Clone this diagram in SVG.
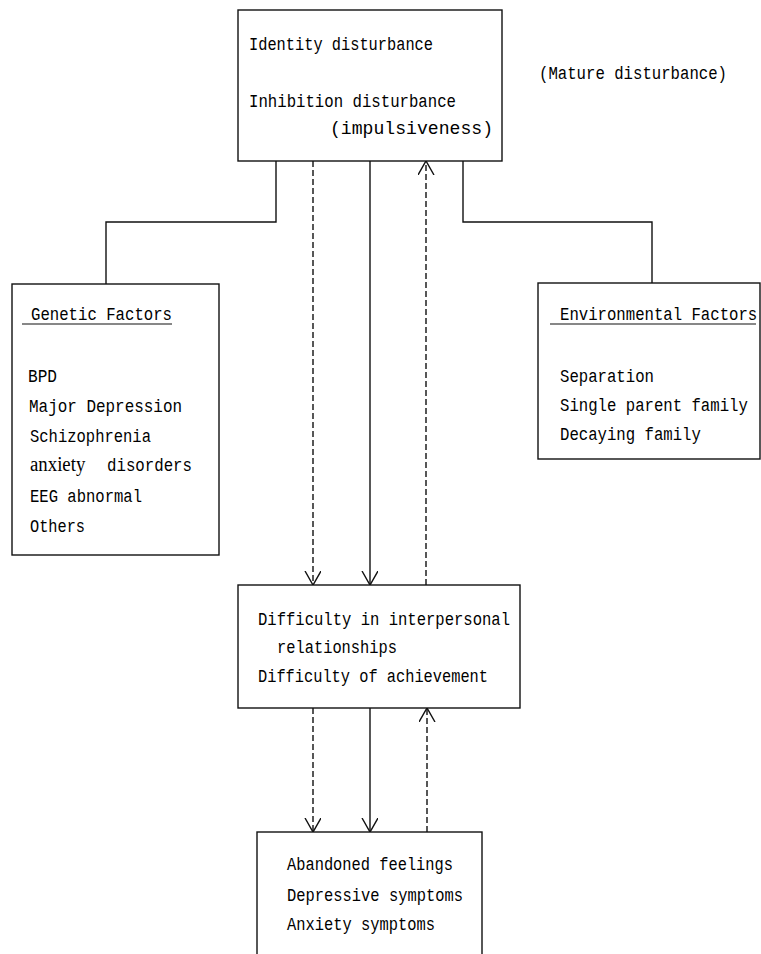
<svg xmlns="http://www.w3.org/2000/svg" width="761" height="954" viewBox="0 0 761 954">
<style>
.box{fill:#fff;stroke:#111;stroke-width:1.4}
.t{font-family:"Liberation Mono","DejaVu Sans Mono",monospace;font-size:18px;fill:#000}
.s{font-family:"Liberation Serif",serif;font-size:20px;fill:#000}
.ln{fill:none;stroke:#111;stroke-width:1.4}
.dash{fill:none;stroke:#111;stroke-width:1.4;stroke-dasharray:6 3}
.ul{stroke:#111;stroke-width:1.2}
</style>
<defs>
<marker id="chev" markerUnits="userSpaceOnUse" markerWidth="20" markerHeight="20" viewBox="0 0 20 20" refX="14" refY="8" orient="auto">
<path d="M0,0 L14,8 L0,16" fill="none" stroke="#111" stroke-width="1.4" stroke-dasharray="none"/>
</marker>
</defs>
<rect width="761" height="954" fill="#fff"/>
<g id="connectors">
<polyline class="ln" points="276,161 276,222 106,222 106,284"/>
<polyline class="ln" points="463,161 463,222 652,222 652,283"/>
<line class="dash" x1="313" y1="161" x2="313" y2="585" marker-end="url(#chev)"/>
<line class="ln" x1="370" y1="161" x2="370" y2="585" marker-end="url(#chev)"/>
<line class="dash" x1="426" y1="585" x2="426" y2="161" marker-end="url(#chev)"/>
<line class="dash" x1="313" y1="708" x2="313" y2="832" marker-end="url(#chev)"/>
<line class="ln" x1="370" y1="708" x2="370" y2="832" marker-end="url(#chev)"/>
<line class="dash" x1="427" y1="832" x2="427" y2="708" marker-end="url(#chev)"/>
</g>
<g id="top">
<rect class="box" x="238" y="10" width="264" height="151"/>
<text class="t" x="249" y="50" textLength="184" lengthAdjust="spacingAndGlyphs">Identity disturbance</text>
<text class="t" x="249" y="107" textLength="207" lengthAdjust="spacingAndGlyphs">Inhibition disturbance</text>
<text class="t" x="330" y="134" textLength="163" lengthAdjust="spacingAndGlyphs">(impulsiveness)</text>
</g>
<g id="mature">
<text class="t" x="539" y="79" textLength="188" lengthAdjust="spacingAndGlyphs">(Mature disturbance)</text>
</g>
<g id="genetic">
<rect class="box" x="12" y="284" width="207" height="271"/>
<text class="t" x="31" y="320" textLength="141" lengthAdjust="spacingAndGlyphs">Genetic Factors</text>
<line class="ul" x1="22" y1="324" x2="172" y2="324"/>
<text class="t" x="28" y="382" textLength="29" lengthAdjust="spacingAndGlyphs">BPD</text>
<text class="t" x="29" y="412" textLength="153" lengthAdjust="spacingAndGlyphs">Major Depression</text>
<text class="t" x="30" y="442" textLength="121" lengthAdjust="spacingAndGlyphs">Schizophrenia</text>
<text y="471"><tspan class="s" x="30" textLength="60" lengthAdjust="spacingAndGlyphs">anxiety </tspan><tspan class="t" x="107" textLength="85" lengthAdjust="spacingAndGlyphs">disorders</tspan></text>
<text class="t" x="30" y="502" textLength="112" lengthAdjust="spacingAndGlyphs">EEG abnormal</text>
<text class="t" x="30" y="532" textLength="55" lengthAdjust="spacingAndGlyphs">Others</text>
</g>
<g id="environmental">
<rect class="box" x="538" y="283" width="222" height="176"/>
<line class="ul" x1="550" y1="324" x2="756" y2="324"/>
<g transform="translate(560,0) scale(0.87,1)">
<text class="t" x="0" y="320">Environmental Factors</text>
<text class="t" x="0" y="382">Separation</text>
<text class="t" x="0" y="411">Single parent family</text>
<text class="t" x="0" y="440">Decaying family</text>
</g>
</g>
<g id="middle">
<rect class="box" x="238" y="585" width="282" height="123"/>
<text class="t" x="258" y="625" textLength="252" lengthAdjust="spacingAndGlyphs">Difficulty in interpersonal</text>
<text class="t" x="277" y="653" textLength="120" lengthAdjust="spacingAndGlyphs">relationships</text>
<text class="t" x="258" y="682" textLength="230" lengthAdjust="spacingAndGlyphs">Difficulty of achievement</text>
</g>
<g id="bottom">
<rect class="box" x="257" y="832" width="225" height="130"/>
<text class="t" x="287" y="870" textLength="166" lengthAdjust="spacingAndGlyphs">Abandoned feelings</text>
<text class="t" x="287" y="901" textLength="176" lengthAdjust="spacingAndGlyphs">Depressive symptoms</text>
<text class="t" x="287" y="930" textLength="148" lengthAdjust="spacingAndGlyphs">Anxiety symptoms</text>
</g>
</svg>
